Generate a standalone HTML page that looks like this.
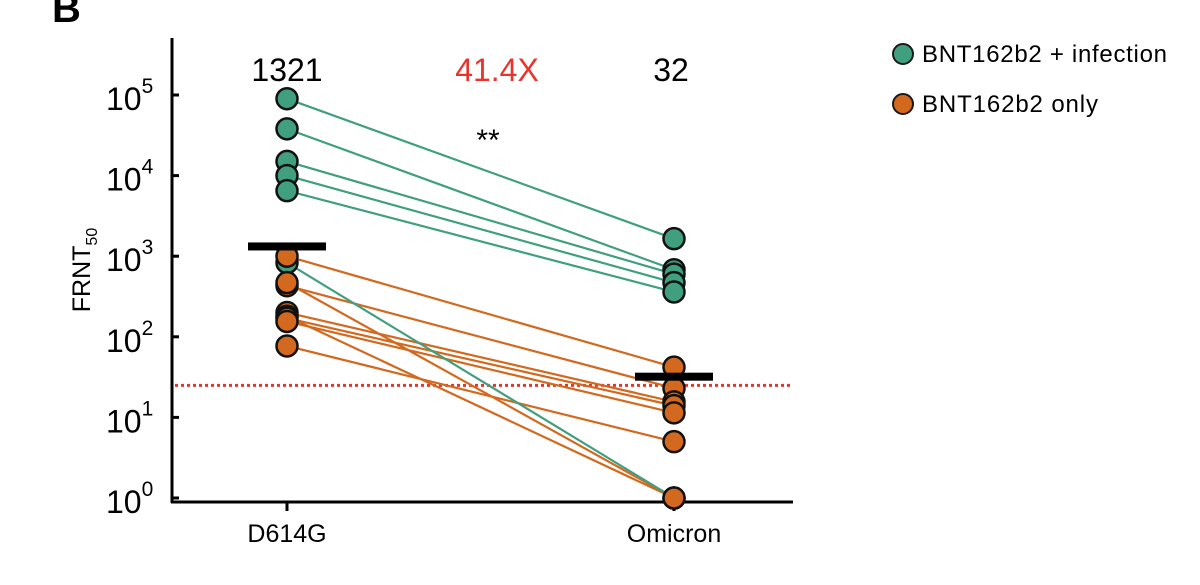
<!DOCTYPE html>
<html><head><meta charset="utf-8"><style>
body{margin:0;background:#fff;font-family:"Liberation Sans",sans-serif}
svg text{font-family:"Liberation Sans",sans-serif}
</style></head><body>
<svg id="c" width="1200" height="580" xmlns="http://www.w3.org/2000/svg">
<text x="52" y="22" font-size="40" font-weight="bold">B</text>
<text transform="translate(90,270) rotate(-90)" font-size="25" text-anchor="middle">FRNT<tspan font-size="16" dy="7">50</tspan></text>
<g id="axes"></g>
<g id="lines"></g>
<g id="pts"></g>
<text x="287" y="81" font-size="32" text-anchor="middle">1321</text>
<text x="497" y="81" font-size="32" fill="#e8342c" text-anchor="middle">41.4X</text>
<text x="671" y="81" font-size="32" text-anchor="middle">32</text>
<text x="488" y="150" font-size="30" text-anchor="middle">**</text>
<g>
<circle cx="903" cy="54" r="10" fill="#3f9f7f" stroke="#1a1a1a" stroke-width="2"/>
<text x="922" y="62" font-size="24" textLength="245">BNT162b2 + infection</text>
<circle cx="903" cy="104" r="10" fill="#d2691e" stroke="#1a1a1a" stroke-width="2"/>
<text x="922" y="112" font-size="24" textLength="176">BNT162b2 only</text>
</g>
</svg>
<script>
const categories=["D614G","Omicron"];
const greenD614G=[90000,38000,15000,10000,6500,830];
const greenOmicron=[1650,680,600,470,360,1];
const orangeD614G=[1000,430,470,200,180,170,155,77];
const orangeOmicron=[42,23,1,15.6,1,14,11.4,5];
const gmt=[1321,32];
const threshold=25;
const yTicks=[0,1,2,3,4,5];
const NS="http://www.w3.org/2000/svg";
const xPos=i=>287+i*387;
const y=v=>498-Math.log10(v)*80.6;
function mk(tag,attrs,parent){const e=document.createElementNS(NS,tag);for(const k in attrs)e.setAttribute(k,attrs[k]);parent.appendChild(e);return e;}
const ax=document.getElementById('axes'),ln=document.getElementById('lines'),pt=document.getElementById('pts');
let e=mk('line',{x1:172,y1:38,x2:172,y2:503,stroke:'#000','stroke-width':3},ax);

e=mk('line',{x1:171,y1:502,x2:793,y2:502,stroke:'#000','stroke-width':3},ax);

yTicks.forEach(t=>{
 const yy=y(Math.pow(10,t));
 let tk=mk('line',{x1:172,y1:yy,x2:179,y2:yy,stroke:'#000','stroke-width':3},ax);
 
 let tx=mk('text',{x:106,y:yy+15,'font-size':32},ax);
 tx.textContent='10';
 
 let sp=mk('tspan',{dy:-17,'font-size':21},tx);sp.textContent=String(t);
});
categories.forEach((c,i)=>{
 let tk=mk('line',{x1:xPos(i),y1:502,x2:xPos(i),y2:511,stroke:'#000','stroke-width':3},ax);
 
 let tx=mk('text',{x:xPos(i),y:542,'font-size':25,'text-anchor':'middle'},ax);
 tx.textContent=c;
 
});
e=mk('line',{x1:175,y1:y(threshold),x2:792,y2:y(threshold),stroke:'#e8342c','stroke-width':3,'stroke-dasharray':'3 3'},ax);

function series(a,b,col,name){
 a.forEach((v,i)=>{
  let l=mk('line',{x1:xPos(0),y1:y(v),x2:xPos(1),y2:y(b[i]),stroke:col,'stroke-width':2.2},ln);
  
 });
}
function dots(a,idx,col,name){
 a.forEach(v=>{
  let c=mk('circle',{cx:xPos(idx),cy:y(v),r:10.5,fill:col,stroke:'#111','stroke-width':2.5},pt);
  
 });
}
series(orangeD614G,orangeOmicron,'#d2691e','only');
series(greenD614G,greenOmicron,'#3f9f7f','infection');
dots(greenD614G,0,'#3f9f7f','infection');dots(orangeD614G,0,'#d2691e','only');
dots(greenOmicron,1,'#3f9f7f','infection');dots(orangeOmicron,1,'#d2691e','only');
gmt.forEach((g,i)=>{
 let b=mk('rect',{x:xPos(i)-39,y:y(g)-4,width:78,height:8,fill:'#000'},pt);
 
});
</script>
</body></html>
